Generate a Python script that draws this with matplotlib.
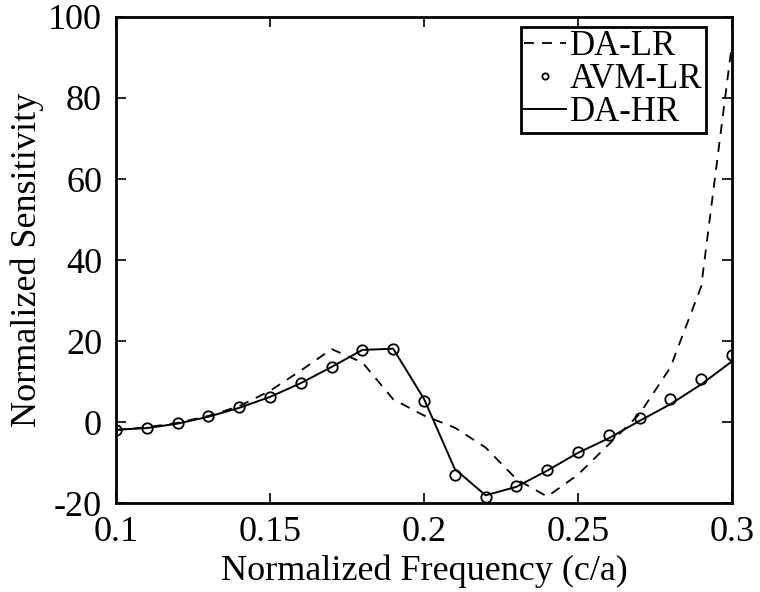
import matplotlib
matplotlib.use("Agg")
import matplotlib.pyplot as plt

freq = [0.10, 0.11, 0.12, 0.13, 0.14, 0.15, 0.16, 0.17, 0.18, 0.19, 0.20,
        0.21, 0.22, 0.23, 0.24, 0.25, 0.26, 0.27, 0.28, 0.29, 0.30]

da_lr = [-2.0, -1.3, -0.2, 1.5, 3.9, 7.7, 12.7, 18.0, 14.7, 5.6, 1.6,
         -1.4, -6.3, -14.1, -18.4, -13.0, -5.5, 2.0, 13.5, 33.5, 93.5]

avm_lr = [-1.9, -1.4, -0.3, 1.4, 3.6, 6.3, 9.7, 13.7, 17.9, 18.1, 5.3,
          -13.2, -18.4, -15.9, -11.8, -7.3, -3.2, 1.0, 5.7, 10.6, 16.5]

da_hr = [-1.9, -1.5, -0.4, 1.3, 3.5, 6.2, 9.6, 13.6, 17.8, 18.1, 5.7,
         -11.6, -18.1, -16.0, -12.0, -7.6, -4.0, 0.3, 4.4, 9.3, 15.0]

xticks = [0.1, 0.15, 0.2, 0.25, 0.3]
xticklabels = ["0.1", "0.15", "0.2", "0.25", "0.3"]
yticks = [-20, 0, 20, 40, 60, 80, 100]
yticklabels = ["-20", "0", "20", "40", "60", "80", "100"]

plt.rcParams["font.family"] = ["Liberation Serif", "DejaVu Serif"]

fig = plt.figure(figsize=(7.6, 5.92), dpi=100)
ax = fig.add_axes([0.1526, 0.1503, 0.8106, 0.8210])

ax.plot(freq, da_lr, color="black", linestyle=(0, (5.5, 4.5)), linewidth=1.3, label="DA-LR")
ax.plot(freq, avm_lr, linestyle="none", marker="o", markersize=7.5,
        markerfacecolor="none", markeredgecolor="black", markeredgewidth=1.3, label="AVM-LR")
ax.plot(freq, da_hr, color="black", linestyle="-", linewidth=1.4, label="DA-HR")

ax.set_xlim(0.1, 0.3)
ax.set_ylim(-20, 100)
ax.set_xticks(xticks)
ax.set_xticklabels(xticklabels)
ax.set_yticks(yticks)
ax.set_yticklabels(yticklabels)
ax.tick_params(direction="in", length=7, width=1.2, top=True, right=True,
               labelsize=26)
ax.tick_params(axis="x", pad=9)
ax.tick_params(axis="y", pad=10)
for s in ax.spines.values():
    s.set_linewidth(2.0)

ax.set_xlabel("Normalized Frequency (c/a)", fontsize=26, labelpad=4)
ax.set_ylabel("Normalized Sensitivity", fontsize=26, labelpad=3)

leg = ax.legend(loc="upper right", bbox_to_anchor=(0.9578, 0.9794),
                fontsize=25, frameon=True, fancybox=False,
                edgecolor="black", handlelength=1.2, handletextpad=0.12,
                borderpad=0.1, labelspacing=0.0, markerscale=0.6,
                borderaxespad=0.0, framealpha=1.0)
leg.get_frame().set_linewidth(2.0)

fig.savefig("out.png", dpi=100)
